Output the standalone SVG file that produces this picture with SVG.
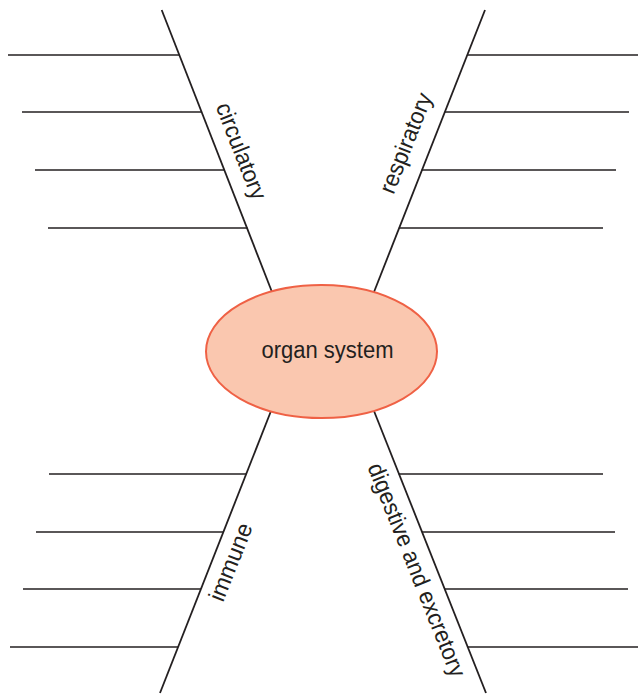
<svg xmlns="http://www.w3.org/2000/svg" width="638" height="696" viewBox="0 0 638 696">
  <style>
    .spine { stroke: #231f20; stroke-width: 1.8; fill: none; }
    .rib { stroke: #231f20; stroke-width: 1.6; fill: none; }
    .label { font-family: "Liberation Sans", Arial, sans-serif; font-size: 23.5px; fill: #231f20; }
    .hub { fill: #fac7af; stroke: #ef6145; stroke-width: 2; }
  </style>
  <rect width="638" height="696" fill="#ffffff"/>
  <g id="connectors">
    <line class="spine" x1="161.7" y1="10" x2="272" y2="292"/>
    <line class="spine" x1="485" y1="10" x2="374" y2="292"/>
    <line class="spine" x1="271" y1="411" x2="160" y2="693"/>
    <line class="spine" x1="374" y1="411" x2="486" y2="693"/>
    <g id="ribs-upper-left">
      <line class="rib" x1="8" y1="55" x2="179.4" y2="55"/>
      <line class="rib" x1="22" y1="112" x2="202" y2="112"/>
      <line class="rib" x1="35" y1="170" x2="224.8" y2="170"/>
      <line class="rib" x1="48" y1="228" x2="247.6" y2="228"/>
    </g>
    <g id="ribs-upper-right">
      <line class="rib" x1="467.3" y1="55" x2="638" y2="55"/>
      <line class="rib" x1="444.7" y1="112" x2="629" y2="112"/>
      <line class="rib" x1="421.7" y1="170" x2="616" y2="170"/>
      <line class="rib" x1="398.8" y1="228" x2="603" y2="228"/>
    </g>
    <g id="ribs-lower-left">
      <line class="rib" x1="49" y1="474" x2="246.5" y2="474"/>
      <line class="rib" x1="36" y1="532" x2="223.6" y2="532"/>
      <line class="rib" x1="23" y1="589" x2="201" y2="589"/>
      <line class="rib" x1="10" y1="647" x2="178.2" y2="647"/>
    </g>
    <g id="ribs-lower-right">
      <line class="rib" x1="398.7" y1="474" x2="603" y2="474"/>
      <line class="rib" x1="421.9" y1="532" x2="615" y2="532"/>
      <line class="rib" x1="444.6" y1="589" x2="628" y2="589"/>
      <line class="rib" x1="467.7" y1="647" x2="638" y2="647"/>
    </g>
  </g>
  <g id="organ-system">
    <ellipse class="hub" cx="321.5" cy="351.5" rx="115.5" ry="66.5"/>
    <text class="label" x="327.5" y="358" text-anchor="middle" textLength="132" lengthAdjust="spacingAndGlyphs">organ system</text>
  </g>
  <g id="circulatory">
    <text class="label" text-anchor="middle" textLength="102" lengthAdjust="spacingAndGlyphs" transform="translate(234,154) rotate(68.6)">circulatory</text>
  </g>
  <g id="respiratory">
    <text class="label" text-anchor="middle" textLength="106" lengthAdjust="spacingAndGlyphs" transform="translate(413,146) rotate(-68.4)">respiratory</text>
  </g>
  <g id="immune">
    <text class="label" text-anchor="middle" textLength="82" lengthAdjust="spacingAndGlyphs" transform="translate(238,565) rotate(-68.4)">immune</text>
  </g>
  <g id="digestive-and-excretory">
    <text class="label" text-anchor="middle" textLength="228" lengthAdjust="spacingAndGlyphs" transform="translate(409.5,573) rotate(68.3)">digestive and excretory</text>
  </g>
</svg>
